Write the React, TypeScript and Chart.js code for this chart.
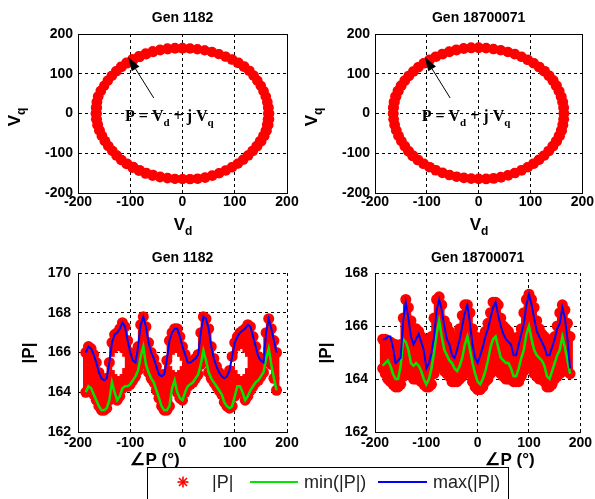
import React, { useEffect, useRef } from "react";
import { Chart, registerables } from "chart.js";

Chart.register(...registerables);

const PAGE_W = 595;
const PAGE_H = 499;
const SANS = '"Liberation Sans", Arial, Helvetica, sans-serif';
const SERIF = '"Liberation Serif", "Times New Roman", serif';

// ---- data (angle of P in degrees, |P| values) ----
const angleDeg = [
  -185, -180, -175, -170, -165, -160, -155, -150, -145, -140, -135, -130, -125, -120, -115, -110, -105, -100, -95, -90,
  -85, -80, -75, -70, -65, -60, -55, -50, -45, -40, -35, -30, -25, -20, -15, -10, -5, 0, 5, 10,
  15, 20, 25, 30, 35, 40, 45, 50, 55, 60, 65, 70, 75, 80, 85, 90, 95, 100, 105, 110,
  115, 120, 125, 130, 135, 140, 145, 150, 155, 160, 165, 170, 175, 180,
];

// Gen 1182: max(|P|), min(|P|) — the |P| cloud spans the same range
const gen1182Max = [
  166.0, 166.3, 166.2, 165.9, 165.5, 165.0, 164.7, 164.6, 164.7, 165.5, 166.5, 166.9, 167.0, 167.2, 167.5, 167.3, 166.6, 166.0, 165.6, 165.5,
  166.3, 167.4, 167.8, 167.3, 166.5, 166.0, 165.7, 165.3, 164.9, 164.8, 164.9, 165.6, 166.6, 167.0, 167.2, 167.2, 166.8, 166.3, 165.9, 165.5,
  165.5, 165.6, 165.7, 165.9, 167.0, 167.8, 167.7, 167.2, 166.3, 165.7, 165.3, 165.0, 164.8, 164.7, 164.8, 165.1, 165.8, 166.5, 166.8, 167.0,
  167.1, 167.2, 167.4, 167.3, 166.8, 166.3, 165.8, 165.6, 165.5, 167.0, 167.7, 167.2, 166.6, 166.0,
];
const gen1182Min = [
  164.0, 164.3, 164.2, 163.9, 163.6, 163.3, 163.1, 163.1, 163.2, 163.6, 164.5, 164.0, 163.6, 163.8, 164.2, 164.3, 164.3, 164.4, 164.6, 164.8,
  165.1, 165.8, 166.3, 165.4, 165.0, 164.7, 164.5, 164.1, 163.7, 163.3, 163.1, 163.1, 163.3, 164.2, 164.6, 164.0, 163.7, 163.6, 164.0, 164.3,
  164.4, 164.5, 164.7, 164.9, 165.4, 166.1, 165.6, 165.0, 164.7, 164.5, 164.3, 164.1, 163.9, 163.5, 163.3, 163.2, 163.3, 163.8, 164.3, 164.3,
  164.0, 163.6, 163.8, 164.1, 164.3, 164.5, 164.6, 164.8, 165.0, 165.7, 166.2, 165.4, 164.7, 164.1,
];
// gaps inside the |P| cloud of Gen 1182
const gen1182GapAngle = [-135, -130, -125, -120, -115, -110, -25, -20, -15, -10, -5, 0, 95, 100, 105, 110, 115, 120, 125];
const gen1182GapLo = [165.1, 164.9, 164.8, 164.8, 164.9, 165.2, 165.3, 165.1, 165.0, 165.0, 165.1, 165.3, 165.3, 165.1, 164.9, 164.8, 164.8, 164.9, 165.2];
const gen1182GapHi = [165.8, 166.0, 166.1, 166.1, 166.0, 165.8, 165.7, 165.9, 166.0, 166.0, 165.8, 165.6, 165.6, 165.9, 166.1, 166.2, 166.2, 166.0, 165.8];

// Gen 18700071: max(|P|), min(|P|)
const gen18700071Max = [
  165.5, 165.5, 165.6, 165.6, 165.2, 164.6, 164.7, 164.8, 166.2, 166.9, 166.3, 165.6, 165.3, 165.5, 165.7, 165.4, 165.1, 164.4, 164.6, 165.0,
  165.6, 166.6, 167.0, 166.6, 166.0, 165.5, 165.3, 164.9, 164.8, 165.1, 165.5, 166.0, 166.5, 166.8, 166.1, 165.3, 164.8, 164.6, 164.9, 165.2,
  165.6, 165.9, 166.3, 166.7, 166.9, 166.4, 166.0, 165.7, 165.5, 165.4, 165.3, 164.9, 164.9, 165.3, 165.7, 166.1, 166.8, 167.2, 166.8, 166.3,
  165.8, 165.6, 165.4, 165.2, 164.9, 164.9, 165.2, 165.5, 165.9, 166.1, 166.7, 166.3, 165.5, 164.4,
];
const gen18700071Min = [
  164.5, 164.6, 164.7, 164.5, 164.2, 164.0, 164.0, 164.5, 165.5, 165.4, 165.1, 164.6, 164.5, 164.6, 164.5, 164.3, 164.0, 163.8, 164.0, 164.4,
  165.0, 165.7, 166.2, 165.6, 165.1, 164.9, 164.7, 164.6, 164.4, 164.3, 164.5, 164.8, 165.3, 165.6, 165.1, 164.6, 164.2, 163.9, 163.8, 164.0,
  164.3, 164.7, 165.2, 165.5, 165.6, 165.2, 164.8, 164.7, 164.6, 164.6, 164.4, 164.1, 164.1, 164.4, 164.8, 165.1, 165.7, 166.0, 165.5, 165.1,
  164.9, 164.8, 164.7, 164.5, 164.1, 164.0, 164.3, 164.6, 164.9, 165.1, 165.6, 165.2, 164.7, 164.2,
];
// Gen 18700071: upper / lower extent of the raw |P| samples
const gen18700071CloudHi = [
  165.5, 165.5, 165.4, 165.4, 165.3, 165.3, 165.2, 165.3, 166.3, 167.0, 166.7, 166.2, 165.9, 165.9, 165.8, 165.6, 165.4, 165.3, 165.4, 165.6,
  166.3, 167.0, 167.1, 166.8, 166.2, 166.0, 165.8, 165.6, 165.4, 165.6, 165.9, 166.4, 166.8, 166.8, 166.5, 165.9, 165.6, 165.4, 165.5, 165.6,
  165.8, 166.1, 166.5, 166.9, 166.9, 166.8, 166.3, 166.0, 165.9, 165.8, 165.6, 165.4, 165.5, 165.6, 165.9, 166.5, 167.0, 167.2, 167.0, 166.7,
  166.2, 165.9, 165.7, 165.6, 165.4, 165.3, 165.5, 165.6, 166.0, 166.5, 166.8, 166.6, 166.1, 165.6,
];
const gen18700071CloudLo = [
  164.4, 164.2, 164.0, 163.9, 163.8, 163.7, 163.7, 163.8, 164.1, 164.3, 164.4, 164.2, 164.0, 164.0, 164.0, 163.9, 163.8, 163.7, 163.7, 163.8,
  164.2, 164.5, 164.7, 164.5, 164.3, 164.2, 164.1, 163.9, 163.9, 163.9, 164.0, 164.1, 164.3, 164.3, 164.2, 163.9, 163.7, 163.6, 163.6, 163.7,
  163.9, 164.0, 164.2, 164.4, 164.5, 164.3, 164.2, 164.1, 164.0, 164.0, 164.0, 163.9, 163.9, 163.9, 164.1, 164.3, 164.5, 164.6, 164.4, 164.2,
  164.1, 164.0, 164.0, 163.9, 163.7, 163.7, 163.8, 164.0, 164.1, 164.2, 164.3, 164.3, 164.4, 164.2,
];

const vTicks = [-200, -100, 0, 100, 200];
const p1182Ticks = [162, 164, 166, 168, 170];
const p18700071Ticks = [162, 164, 166, 168];

// annotation "P = Vd + j Vq" (data coordinates of the Vd-Vq plane)
const arrowTail = [-55, 39];
const arrowTip = [-104, 142];
const annotationAt = [-110, -20];

const RED = "#ff0000";
const GREEN = "#00e600";
const BLUE = "#0000ff";

type Part = { t: string; sub?: boolean };
type Area = { l: number; t: number; r: number; b: number };
type Decor = {
  title: string;
  titleY: number;
  xLabel: Part[];
  xLabelX: number;
  xLabelY: number;
  yLabel: Part[];
  yLabelX: number;
  yLabelY: number;
  box: boolean;
  arrow: boolean;
};

function drawParts(ctx: CanvasRenderingContext2D, parts: Part[], x: number, y: number, size: number, weight: string, family: string, align: "center" | "left") {
  const subSize = Math.round(size * 0.7);
  const widths = parts.map((p) => {
    ctx.font = `${weight} ${p.sub ? subSize : size}px ${family}`;
    return ctx.measureText(p.t).width;
  });
  const total = widths.reduce((a, b) => a + b, 0);
  let cx = align === "center" ? x - total / 2 : x;
  ctx.textAlign = "left";
  ctx.textBaseline = "alphabetic";
  parts.forEach((p, i) => {
    ctx.font = `${weight} ${p.sub ? subSize : size}px ${family}`;
    ctx.fillText(p.t, cx, y + (p.sub ? Math.round(size * 0.32) : 0));
    cx += widths[i];
  });
}

function decorPlugin(d: Decor) {
  return {
    id: "decor",
    afterDatasetsDraw(chart: any) {
      const { ctx, chartArea: a, scales } = chart;
      ctx.save();
      ctx.fillStyle = "#000";
      ctx.strokeStyle = "#000";
      if (d.box) {
        ctx.lineWidth = 1;
        const l = Math.round(a.left) + 0.5;
        const t = Math.round(a.top) + 0.5;
        ctx.strokeRect(l, t, Math.round(a.right) - Math.round(a.left), Math.round(a.bottom) - Math.round(a.top));
      }
      ctx.font = `bold 14px ${SANS}`;
      ctx.textAlign = "center";
      ctx.textBaseline = "alphabetic";
      ctx.fillText(d.title, (a.left + a.right) / 2, d.titleY);
      drawParts(ctx, d.xLabel, d.xLabelX, d.xLabelY, 17, "bold", SANS, "center");
      ctx.save();
      ctx.translate(d.yLabelX, d.yLabelY);
      ctx.rotate(-Math.PI / 2);
      drawParts(ctx, d.yLabel, 0, 0, 17, "bold", SANS, "center");
      ctx.restore();
      if (d.arrow) {
        const sx = scales.x;
        const sy = scales.y;
        const x0 = sx.getPixelForValue(arrowTail[0]);
        const y0 = sy.getPixelForValue(arrowTail[1]);
        const x1 = sx.getPixelForValue(arrowTip[0]);
        const y1 = sy.getPixelForValue(arrowTip[1]);
        const ang = Math.atan2(y1 - y0, x1 - x0);
        const L = 14;
        const Wd = 4.5;
        const bx = x1 - L * Math.cos(ang);
        const by = y1 - L * Math.sin(ang);
        ctx.lineWidth = 1;
        ctx.beginPath();
        ctx.moveTo(x0, y0);
        ctx.lineTo(bx, by);
        ctx.stroke();
        ctx.beginPath();
        ctx.moveTo(x1, y1);
        ctx.lineTo(bx + Wd * Math.sin(ang), by - Wd * Math.cos(ang));
        ctx.lineTo(bx - Wd * Math.sin(ang), by + Wd * Math.cos(ang));
        ctx.closePath();
        ctx.fill();
        drawParts(
          ctx,
          [{ t: "P = V" }, { t: "d", sub: true }, { t: " + j V" }, { t: "q", sub: true }],
          sx.getPixelForValue(annotationAt[0]),
          sy.getPixelForValue(annotationAt[1]),
          16,
          "bold",
          SERIF,
          "left"
        );
      }
      ctx.restore();
    },
  };
}

function axis(min: number, max: number, ticks: number[], pad: number, isX: boolean, size: number) {
  return {
    type: "linear",
    min,
    max,
    offset: false,
    afterBuildTicks: (s: any) => {
      s.ticks = ticks.map((v) => ({ value: v }));
    },
    afterFit: (s: any) => {
      if (isX) s.height = size;
      else s.width = size;
    },
    ticks: {
      autoSkip: false,
      maxRotation: 0,
      minRotation: 0,
      padding: pad,
      color: "#000",
      font: { family: SANS, size: 14, weight: "bold" },
    },
    grid: { color: "#000", lineWidth: 1, drawTicks: false, offset: false },
    border: { display: true, color: "#000", width: 1, dash: [3, 3] },
  };
}

const Y_AXIS_W = 60;
const X_AXIS_H = 20;

function padFor(a: Area) {
  return { left: a.l - Y_AXIS_W, top: a.t, right: PAGE_W - a.r, bottom: PAGE_H - a.b - X_AXIS_H };
}

function baseOptions(a: Area, xPad: number, yPad: number, yMin: number, yMax: number, yTicks: number[], xMin: number, xMax: number, xTicks: number[]) {
  return {
    animation: false,
    responsive: false,
    events: [],
    layout: { padding: padFor(a) },
    plugins: { legend: { display: false }, tooltip: { enabled: false }, title: { display: false } },
    scales: {
      x: axis(xMin, xMax, xTicks, xPad, true, X_AXIS_H),
      y: axis(yMin, yMax, yTicks, yPad, false, Y_AXIS_W),
    },
  };
}

const MARK = { pointStyle: "circle", pointRadius: 5.5, pointBorderWidth: 0, pointBorderColor: RED, pointBackgroundColor: RED };

function ringConfig(a: Area, hiArr: number[], loArr: number[], d: Decor) {
  const pts: { x: number; y: number }[] = [];
  angleDeg.forEach((ang, i) => {
    const th = (ang * Math.PI) / 180;
    [loArr[i], hiArr[i]].forEach((r) => pts.push({ x: r * Math.cos(th), y: r * Math.sin(th) }));
  });
  return {
    type: "scatter",
    data: { datasets: [{ label: "|P|", data: pts, ...MARK, pointRadius: 5 }] },
    options: baseOptions(a, 1, 5, -200, 200, vTicks, -200, 200, vTicks),
    plugins: [decorPlugin(d)],
  };
}

function magConfig(
  a: Area,
  maxArr: number[],
  minArr: number[],
  cloudHi: number[],
  cloudLo: number[],
  gapAng: number[],
  gapLo: number[],
  gapHi: number[],
  yTicks: number[],
  d: Decor
) {
  const n = Math.min(angleDeg.length, maxArr.length, minArr.length, cloudHi.length, cloudLo.length);
  const lower: any[] = [];
  const upper: any[] = [];
  const pts: any[] = [];
  for (let i = 0; i < n; i++) {
    const ang = angleDeg[i];
    const g = gapAng.indexOf(ang);
    lower.push({ x: ang, y: [cloudLo[i], g >= 0 ? gapLo[g] : cloudHi[i]] });
    if (g >= 0) upper.push({ x: ang, y: [gapHi[g], cloudHi[i]] });
    pts.push({ x: ang, y: cloudLo[i] });
    pts.push({ x: ang, y: cloudHi[i] });
  }
  const maxLine = angleDeg.slice(0, n).map((x, i) => ({ x, y: maxArr[i] }));
  const minLine = angleDeg.slice(0, n).map((x, i) => ({ x, y: minArr[i] }));
  return {
    type: "bar",
    data: {
      datasets: [
        { type: "line", label: "max(|P|)", data: maxLine, borderColor: BLUE, borderWidth: 2, pointRadius: 0, tension: 0, order: 0 },
        { type: "line", label: "min(|P|)", data: minLine, borderColor: GREEN, borderWidth: 2.5, pointRadius: 0, tension: 0, order: 1 },
        { type: "scatter", label: "|P|", data: pts, ...MARK, order: 2 },
        { type: "bar", label: "|P| lo", data: lower, backgroundColor: RED, borderWidth: 0, barThickness: 5, grouped: false, order: 3 },
        { type: "bar", label: "|P| hi", data: upper, backgroundColor: RED, borderWidth: 0, barThickness: 5, grouped: false, order: 3 },
      ],
    },
    options: baseOptions(a, 3, 7, yTicks[0], yTicks[yTicks.length - 1], yTicks, -200, 200, vTicks),
    plugins: [decorPlugin(d)],
  };
}

const V_D: Part[] = [{ t: "V" }, { t: "d", sub: true }];
const V_Q: Part[] = [{ t: "V" }, { t: "q", sub: true }];
const ABS_P: Part[] = [{ t: "|P|" }];
const ANG_P: Part[] = [{ t: "\u2220P (\u00b0)" }];

export default function App() {
  const r1 = useRef<HTMLCanvasElement>(null);
  const r2 = useRef<HTMLCanvasElement>(null);
  const r3 = useRef<HTMLCanvasElement>(null);
  const r4 = useRef<HTMLCanvasElement>(null);

  useEffect(() => {
    const charts: Chart[] = [];
    const tl = ringConfig({ l: 78, t: 34, r: 287, b: 193 }, gen1182Max, gen1182Min, {
      title: "Gen 1182", titleY: 22, xLabel: V_D, xLabelX: 183, xLabelY: 230, yLabel: V_Q, yLabelX: 20, yLabelY: 117, box: true, arrow: true,
    });
    const tr = ringConfig({ l: 375, t: 34, r: 584, b: 193 }, gen18700071CloudHi, gen18700071CloudLo, {
      title: "Gen 18700071", titleY: 22, xLabel: V_D, xLabelX: 479, xLabelY: 230, yLabel: V_Q, yLabelX: 317, yLabelY: 117, box: true, arrow: true,
    });
    const bl = magConfig(
      { l: 78, t: 273, r: 287, b: 432 },
      gen1182Max, gen1182Min, gen1182Max, gen1182Min,
      gen1182GapAngle, gen1182GapLo, gen1182GapHi, p1182Ticks,
      { title: "Gen 1182", titleY: 262, xLabel: ANG_P, xLabelX: 155, xLabelY: 465, yLabel: ABS_P, yLabelX: 34, yLabelY: 353, box: false, arrow: false }
    );
    const br = magConfig(
      { l: 375, t: 273, r: 583, b: 432 },
      gen18700071Max, gen18700071Min, gen18700071CloudHi, gen18700071CloudLo,
      [], [], [], p18700071Ticks,
      { title: "Gen 18700071", titleY: 262, xLabel: ANG_P, xLabelX: 510, xLabelY: 465, yLabel: ABS_P, yLabelX: 331, yLabelY: 353, box: false, arrow: false }
    );
    const cfgs = [tl, tr, bl, br];
    const refs = [r1, r2, r3, r4];
    cfgs.forEach((c, i) => {
      const el = refs[i].current;
      if (el) charts.push(new Chart(el, c as any));
    });
    return () => charts.forEach((c) => c.destroy());
  }, []);

  const cv: React.CSSProperties = { position: "absolute", left: 0, top: 0, width: PAGE_W, height: PAGE_H };
  const txt: React.CSSProperties = {
    position: "absolute",
    top: 471,
    height: 22,
    lineHeight: "22px",
    fontFamily: SANS,
    fontSize: 18,
    color: "#222",
    whiteSpace: "nowrap",
  };
  return (
    <div style={{ position: "absolute", left: 0, top: 0, width: PAGE_W, height: PAGE_H, overflow: "hidden", background: "#fff" }}>
      <canvas ref={r1} width={PAGE_W} height={PAGE_H} style={cv} />
      <canvas ref={r2} width={PAGE_W} height={PAGE_H} style={cv} />
      <canvas ref={r3} width={PAGE_W} height={PAGE_H} style={cv} />
      <canvas ref={r4} width={PAGE_W} height={PAGE_H} style={cv} />
      <div style={{ position: "absolute", left: 147, top: 467, width: 360, height: 60, border: "1px solid #000", background: "transparent" }} />
      <svg style={{ position: "absolute", left: 176, top: 475 }} width={14} height={14}>
        <g stroke={RED} strokeWidth={1.6}>
          <line x1={7} y1={1.5} x2={7} y2={12.5} />
          <line x1={1.5} y1={7} x2={12.5} y2={7} />
          <line x1={3} y1={3} x2={11} y2={11} />
          <line x1={11} y1={3} x2={3} y2={11} />
        </g>
      </svg>
      <span style={{ ...txt, left: 212 }}>|P|</span>
      <div style={{ position: "absolute", left: 250, top: 481, width: 48, height: 2, background: GREEN }} />
      <span style={{ ...txt, left: 304 }}>min(|P|)</span>
      <div style={{ position: "absolute", left: 378, top: 481, width: 49, height: 2, background: BLUE }} />
      <span style={{ ...txt, left: 433 }}>max(|P|)</span>
    </div>
  );
}
